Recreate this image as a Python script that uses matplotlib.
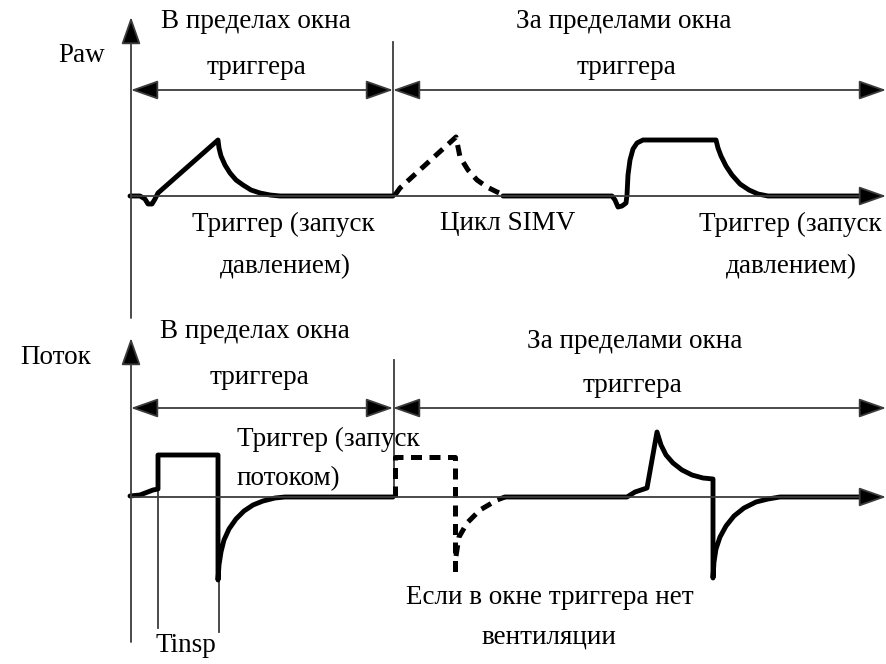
import matplotlib
matplotlib.use("Agg")
import matplotlib.pyplot as plt

# Waveform key points (x, y in picture pixels, y down)
paw_x1 = [130, 140, 145, 148, 152, 155, 158, 218, 219, 221, 225, 230, 236, 243, 251, 260, 270, 280, 393]
paw_y1 = [196, 196, 199, 204, 204, 199, 193, 140, 148, 156, 165, 173, 180, 185, 190, 193, 195, 196, 196]
paw_dash_x = [395, 400, 456, 460, 468, 477, 487, 497, 502]
paw_dash_y = [195, 188, 137, 157, 170, 180, 187, 192, 194]
paw_x2 = [503, 612, 615, 618, 622, 626, 627, 628, 630, 633, 637, 643, 716, 718, 721, 726, 732, 740, 749, 758, 768, 872]
paw_y2 = [196, 196, 200, 207, 206, 203, 195, 175, 160, 149, 143, 140, 140, 148, 156, 166, 175, 184, 190, 194, 196, 196]

flow_x1 = [130, 140, 153, 158, 158, 218, 218, 219, 221, 224, 229, 236, 244, 253, 263, 275, 285, 393]
flow_y1 = [496, 495, 490, 489, 455, 455, 580, 565, 552, 540, 529, 519, 511, 505, 501, 498, 497, 497]
flow_dash_x = [395, 395, 455, 455]
flow_dash_y = [497, 457, 457, 578]
flow_rec_x = [456, 459, 467, 480, 497, 505]
flow_rec_y = [556, 537, 523, 510, 500, 497]
flow_x2 = [505, 627, 635, 647, 657, 661, 666, 673, 682, 692, 703, 713, 713, 714, 716, 720, 726,
           734, 744, 756, 768, 780, 872]
flow_y2 = [497, 497, 492, 488, 432, 445, 455, 463, 470, 475, 478, 479, 578, 562, 549, 537, 526,
           516, 508, 502, 499, 497, 497]

# Labels: (text, x, y, ha)
labels = [
    ("Paw", 82, 55, "center"),
    ("В пределах окна", 256, 22, "center"),
    ("триггера", 256, 67, "center"),
    ("За пределами окна", 624, 22, "center"),
    ("триггера", 626, 67, "center"),
    ("Триггер (запуск", 283, 224, "center"),
    ("давлением)", 285, 267, "center"),
    ("Цикл SIMV", 508, 224, "center"),
    ("Триггер (запуск", 790, 224, "center"),
    ("давлением)", 791, 267, "center"),
    ("Поток", 56, 357, "center"),
    ("В пределах окна", 255, 332, "center"),
    ("триггера", 259, 377, "center"),
    ("За пределами окна", 635, 342, "center"),
    ("триггера", 632, 386, "center"),
    ("Триггер (запуск", 237, 439, "left"),
    ("потоком)", 237, 479, "left"),
    ("Если в окне триггера нет", 550, 597, "center"),
    ("вентиляции", 549, 637, "center"),
    ("Tinsp", 186, 646, "center"),
]

grey = "#3c3c3c"
fig = plt.figure(figsize=(8.86, 6.64), dpi=100)
ax = fig.add_axes([0, 0, 1, 1])
ax.set_xlim(0, 886)
ax.set_ylim(664, 0)
ax.axis("off")


def arrow(x0, y0, x1, y1, style):
    ax.annotate("", xy=(x1, y1), xytext=(x0, y0),
                arrowprops=dict(arrowstyle=style + ",head_length=0.85,head_width=0.3",
                                mutation_scale=20, lw=1.3, color=grey, fc="black",
                                shrinkA=0, shrinkB=0))


# axes
arrow(131, 318, 131, 17, "-|>")
arrow(131, 642, 131, 338, "-|>")
arrow(131, 196, 886, 196, "-|>")
arrow(131, 497, 886, 497, "-|>")
# window spans
for yy in (90, 408):
    arrow(131, yy, 393, yy, "<|-|>")
    arrow(393, yy, 886, yy, "<|-|>")
ax.plot([393, 393], [42, 196], color=grey, lw=1.3)
ax.plot([394, 394], [360, 497], color=grey, lw=1.3)
ax.plot([158, 158], [455, 628], color=grey, lw=1.3)
ax.plot([219, 219], [580, 632], color=grey, lw=1.3)

# waveforms
solid = dict(color="black", lw=3.5, solid_joinstyle="round", solid_capstyle="round")
dash = dict(color="black", lw=3.6, linestyle=(0, (2.2, 1.5)))
ax.plot(paw_x1, paw_y1, **solid)
ax.plot(paw_x2, paw_y2, **solid)
ax.plot(paw_dash_x, paw_dash_y, **dash)
ax.plot(flow_x1, flow_y1, **solid)
ax.plot(flow_x2, flow_y2, **solid)
ax.plot(flow_dash_x, flow_dash_y, **dash)
ax.plot(flow_rec_x, flow_rec_y, **dash)

for txt, x, y, ha in labels:
    ax.text(x, y, txt, ha=ha, va="center", fontsize=19.5, family="Liberation Serif")

fig.savefig("out.png", dpi=100)
